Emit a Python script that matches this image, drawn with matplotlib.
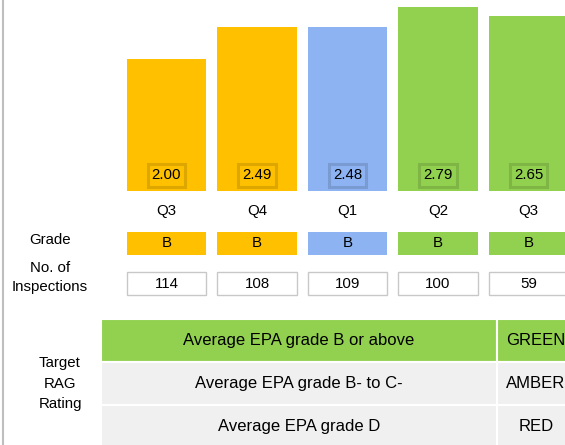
import matplotlib
matplotlib.use("Agg")
import matplotlib.pyplot as plt
from matplotlib.lines import Line2D

plt.rcParams['font.family'] = ['Liberation Sans', 'DejaVu Sans']
plt.rcParams['font.size'] = 10.8

# data
quarters = ['Q3', 'Q4', 'Q1', 'Q2', 'Q3']
avg_grade = [2.00, 2.49, 2.48, 2.79, 2.65]
grades = ['B', 'B', 'B', 'B', 'B']
inspections = [114, 108, 109, 100, 59]
rag_criteria = ['Average EPA grade B or above',
                'Average EPA grade B- to C-',
                'Average EPA grade D']
rag_ratings = ['GREEN', 'AMBER', 'RED']

# colours per quarter (amber / blue / green)
bar_colors = ['#FFC000', '#FFC000', '#8DB3F2', '#92D050', '#92D050']

W, H = 565, 445
fig = plt.figure(figsize=(W / 100, H / 100), dpi=100)


def px_axes(left, top, right, bottom):
    """Add axes from pixel box (origin top-left)."""
    return fig.add_axes([left / W, 1 - bottom / H, (right - left) / W, (bottom - top) / H])


pitch = 90.5
x0 = 166.5 - pitch / 2
xmax = (W - x0) / pitch - 0.5
x = list(range(len(quarters)))

# main bars
ax = px_axes(x0, 0, W, 191)
ax.bar(x, avg_grade, width=0.875, color=bar_colors)
ax.set_xlim(-0.5, xmax)
ax.set_ylim(0, 191 / 66)
for i, v in enumerate(avg_grade):
    ax.text(i, 0.235, f'{v:.2f}', ha='center', va='center',
            bbox=dict(boxstyle='square,pad=0.28', fc=bar_colors[i],
                      ec=(0, 0, 0, 0.13), lw=2.2))
ax.set_xticks(x)
ax.set_xticklabels(quarters)
ax.tick_params(axis='x', length=0, pad=9)
ax.set_yticks([])
for s in ax.spines.values():
    s.set_visible(False)

# grade row
axg = px_axes(x0, 232, W, 255)
axg.bar(x, [1] * len(x), width=0.88, color=bar_colors)
for i, g in enumerate(grades):
    axg.text(i, 0.5, g, ha='center', va='center')
axg.set_xlim(-0.5, xmax)
axg.set_ylim(0, 1)
axg.axis('off')

# inspections row
axi = px_axes(x0, 272, W, 295)
axi.bar(x, [1] * len(x), width=0.875, color='white', edgecolor='#C8C8C8',
        linewidth=1, clip_on=False)
for i, n in enumerate(inspections):
    axi.text(i, 0.5, str(n), ha='center', va='center')
axi.set_xlim(-0.5, xmax)
axi.set_ylim(0, 1)
axi.axis('off')

# RAG table
axt = px_axes(101, 319, 575, 448)
axt.axis('off')
cells = [[c, r] for c, r in zip(rag_criteria, rag_ratings)]
row_colors = ['#92D050', '#F0F0F0', '#F0F0F0']
tbl = axt.table(cellText=cells, cellColours=[[c, c] for c in row_colors],
                cellLoc='center', colWidths=[396 / 474, 78 / 474],
                bbox=[0, 0, 1, 1])
tbl.auto_set_font_size(False)
tbl.set_fontsize(12)
for cell in tbl.get_celld().values():
    cell.set_edgecolor('white')
    cell.set_linewidth(1.5)
    cell.PAD = 0.02

# row labels on the left
fig.text(50 / W, 1 - 240 / H, 'Grade', ha='center', va='center')
fig.text(50 / W, 1 - 277.5 / H, 'No. of\nInspections', ha='center', va='center',
         linespacing=1.4)
fig.text(60 / W, 1 - 383.5 / H, 'Target\nRAG\nRating', ha='center', va='center',
         linespacing=1.62)

# grey frame line at the left edge
fig.add_artist(Line2D([3 / W, 3 / W], [0, 1], color='#BFBFBF', lw=1.5))

fig.savefig('out.png', dpi=100)
